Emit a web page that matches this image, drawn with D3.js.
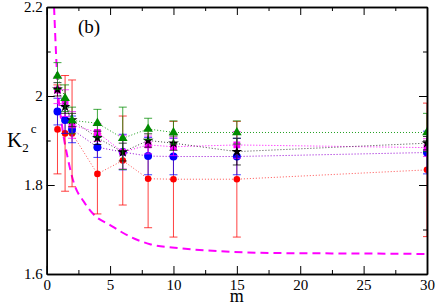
<!DOCTYPE html>
<html>
<head>
<meta charset="utf-8">
<script src="https://cdn.jsdelivr.net/npm/d3@7"></script>
<style>
  body { margin: 0; background: #fff; }
</style>
</head>
<body>
<svg id="chart" width="436" height="305"></svg>
<script>
// x positions (m) of the measured points
const mVals = [0.85, 1.45, 2, 4, 6, 8, 10, 15, 30]

// one array of values and one of errors per series
const greenVals = [2.045, 1.995, 1.945, 1.939, 1.905, 1.926, 1.918, 1.918, 1.918]
const greenErr = [0.03, 0.03, 0.03, 0.031, 0.07, 0.024, 0.026, 0.026, 0.043]
const blackVals = [2.015, 1.976, 1.946, 1.906, 1.874, 1.900, 1.894, 1.875, 1.894]
const blackErr = [0.015, 0.015, 0.015, 0.015, 0.02, 0.015, 0.016, 0.03, 0.015]
const magentaVals = [2.013, 1.984, 1.935, 1.918, 1.874, 1.890, 1.886, 1.890, 1.884]
const magentaErr = [0.03, 0.03, 0.03, 0.02, 0.038, 0.02, 0.02, 0.03, 0.02]
const blueVals = [1.965, 1.946, 1.925, 1.885, 1.874, 1.865, 1.864, 1.864, 1.873]
const blueErr = [0.03, 0.03, 0.03, 0.023, 0.04, 0.042, 0.041, 0.041, 0.048]
const redVals = [1.925, 1.916, 1.916, 1.825, 1.855, 1.814, 1.813, 1.813, 1.834]
const redErr = [0.1, 0.13, 0.12, 0.09, 0.1, 0.11, 0.13, 0.13, 0.15]

// dashed curve
const curveM = [0.58, 0.89, 1.18, 1.68, 2.15, 2.94, 3.73, 5, 6.57, 8.15, 10.5, 14.5, 18.4, 25, 30]
const curveK = [2.2, 2.013, 1.939, 1.858, 1.804, 1.762, 1.733, 1.71, 1.684, 1.667, 1.658, 1.65, 1.647, 1.646, 1.645]

const xTicks = [0, 5, 10, 15, 20, 25, 30]
const xMinor = [2.5, 7.5, 12.5, 17.5, 22.5, 27.5]
const yTicks = [1.6, 1.8, 2.0, 2.2]
const yMinor = [1.7, 1.9, 2.1]

const serif = '"Liberation Serif", "Times New Roman", serif'
const svg = d3.select('#chart')
const pLeft = 46.7, pRight = 427, pTop = 7, pBottom = 274

const x = d3.scaleLinear([0, 30], [pLeft, pRight])
const y = d3.scaleLinear([1.6, 2.2], [pBottom, pTop])

svg.append('defs').append('clipPath').attr('id', 'plot')
    .append('rect')
    .attr('x', pLeft).attr('y', pTop)
    .attr('width', pRight - pLeft).attr('height', pBottom - pTop)

const series = [
    { vals: redVals, err: redErr, color: '#ff0000', line: '#ff5050', sym: d3.symbolCircle, size: 34 },
    { vals: blueVals, err: blueErr, color: '#0000ff', line: '#9400d3', sym: d3.symbolCircle, size: 50 },
    { vals: magentaVals, err: magentaErr, color: '#ff00ff', line: '#ff00ff', sym: d3.symbolSquare, size: 46 },
    { vals: blackVals, err: blackErr, color: '#000000', line: '#444444', sym: d3.symbolStar, size: 36 },
    { vals: greenVals, err: greenErr, color: '#008b00', line: '#20a020', sym: d3.symbolTriangle, size: 40 },
]

const plot = svg.append('g').attr('clip-path', 'url(#plot)')

// dashed magenta curve
const curvePts = curveM.map((m, i) => [m, curveK[i]])
plot.append('path')
    .datum(curvePts)
    .attr('fill', 'none')
    .attr('stroke', '#ff00ff')
    .attr('stroke-width', 2)
    .attr('stroke-dasharray', '8,5')
    .attr('d', d3.line().x(d => x(d[0])).y(d => y(d[1])).curve(d3.curveMonotoneX))

series.forEach(s => {
    const pts = mVals.map((m, i) => ({ m, v: s.vals[i], e: s.err[i] }))
    const g = plot.append('g')

    g.append('path')
        .datum(pts)
        .attr('fill', 'none')
        .attr('stroke', s.line)
        .attr('stroke-width', 1)
        .attr('stroke-dasharray', '1,2')
        .attr('d', d3.line().x(d => x(d.m)).y(d => y(d.v)))

    const eb = g.selectAll('.err').data(pts).join('g')
        .attr('class', 'err')
        .attr('stroke', s.color)
        .attr('stroke-width', 1)
        .attr('stroke-opacity', 0.75)
    eb.append('line')
        .attr('x1', d => x(d.m)).attr('x2', d => x(d.m))
        .attr('y1', d => y(d.v - d.e)).attr('y2', d => y(d.v + d.e))
    eb.append('line')
        .attr('x1', d => x(d.m) - 4).attr('x2', d => x(d.m) + 4)
        .attr('y1', d => y(d.v - d.e)).attr('y2', d => y(d.v - d.e))
    eb.append('line')
        .attr('x1', d => x(d.m) - 4).attr('x2', d => x(d.m) + 4)
        .attr('y1', d => y(d.v + d.e)).attr('y2', d => y(d.v + d.e))

    g.selectAll('.sym').data(pts).join('path')
        .attr('class', 'sym')
        .attr('transform', d => `translate(${x(d.m)},${y(d.v)})`)
        .attr('d', d3.symbol(s.sym, s.size))
        .attr('fill', s.color)
})

// axes, ticks pointing inward, mirrored on top and right
const fmt = d => String(+d.toFixed(1))
const axes = [
    [d3.axisBottom(x).tickValues(xTicks).tickSize(-8).tickPadding(5).tickFormat(fmt), `translate(0,${pBottom})`],
    [d3.axisBottom(x).tickValues(xMinor).tickSize(-4).tickFormat(''), `translate(0,${pBottom})`],
    [d3.axisTop(x).tickValues(xTicks).tickSize(-8).tickFormat(''), `translate(0,${pTop})`],
    [d3.axisTop(x).tickValues(xMinor).tickSize(-4).tickFormat(''), `translate(0,${pTop})`],
    [d3.axisLeft(y).tickValues(yTicks).tickSize(-8).tickPadding(4).tickFormat(fmt), `translate(${pLeft},0)`],
    [d3.axisLeft(y).tickValues(yMinor).tickSize(-4).tickFormat(''), `translate(${pLeft},0)`],
    [d3.axisRight(y).tickValues(yTicks).tickSize(-8).tickFormat(''), `translate(${pRight},0)`],
    [d3.axisRight(y).tickValues(yMinor).tickSize(-4).tickFormat(''), `translate(${pRight},0)`],
]
axes.forEach(([ax, tr]) => {
    const g = svg.append('g').attr('transform', tr).call(ax.tickSizeOuter(0))
    g.select('.domain').attr('stroke-width', 1.5)
    g.selectAll('.tick line').attr('stroke-width', 1)
    g.selectAll('text').style('font-size', '15px').style('font-family', serif)
})

// labels
svg.append('text')
    .attr('x', (pLeft + pRight) / 2).attr('y', 302)
    .attr('text-anchor', 'middle')
    .style('font-family', serif)
    .style('font-size', '18px')
    .text('m')

const ylab = svg.append('text').attr('x', 7).attr('y', 147)
    .style('font-family', serif).style('font-size', '21px')
ylab.append('tspan').text('K')
ylab.append('tspan').style('font-size', '13px').attr('dy', 5).text('2')
ylab.append('tspan').style('font-size', '13px').attr('dx', 2).attr('dy', -19).text('c')

svg.append('text')
    .attr('x', 78).attr('y', 33)
    .style('font-family', serif)
    .style('font-size', '19px')
    .text('(b)')
</script>
</body>
</html>
